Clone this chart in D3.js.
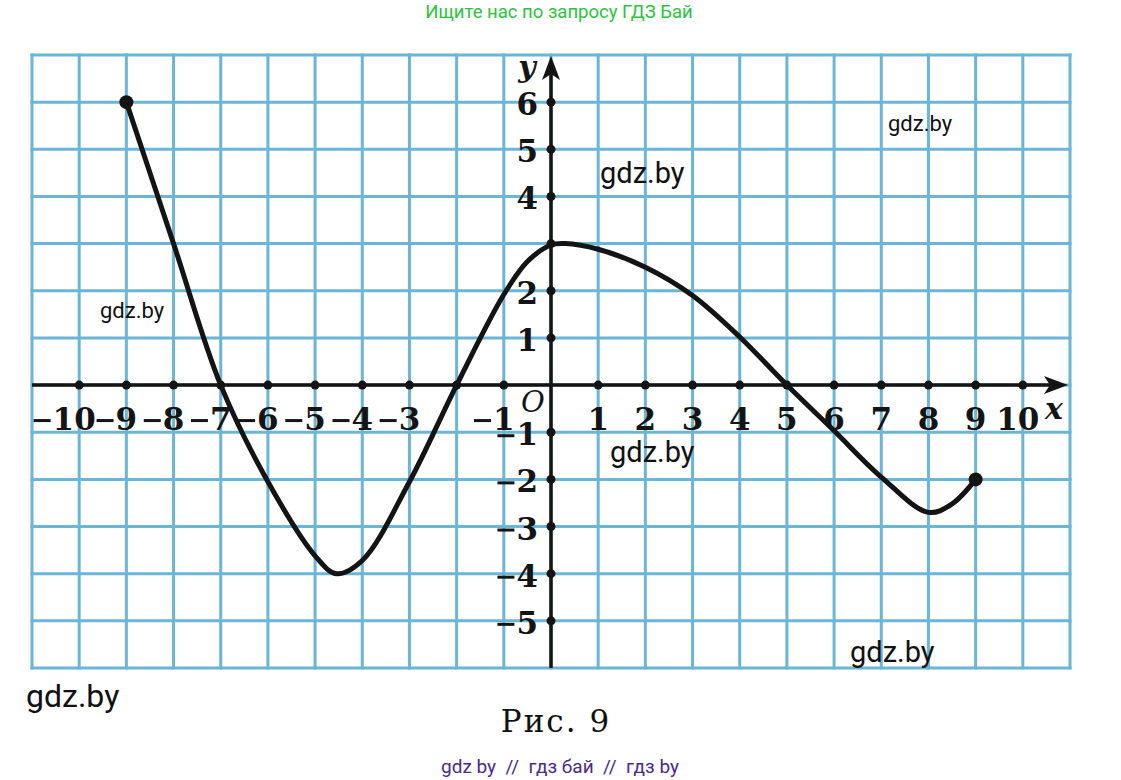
<!DOCTYPE html>
<html>
<head>
<meta charset="utf-8">
<script src="https://cdn.jsdelivr.net/npm/d3@7"></script>
<style>
  html, body { margin: 0; padding: 0; background: #fff; }
  svg { display: block; }
</style>
</head>
<body>
<svg id="chart" width="1121" height="780"></svg>
<script>
// graph of the function
const curveX = [-9, -8, -7, -6, -5, -4.55, -4, -3, -2, -1, -0.5, 0, 0.3, 1, 2, 3, 4, 5, 6, 7, 8, 8.5, 9];
const curveY = [6, 3, 0, -2.05, -3.62, -4, -3.72, -2.05, 0, 1.92, 2.62, 2.97, 3, 2.88, 2.5, 1.9, 1.02, 0, -0.97, -1.95, -2.7, -2.52, -2];

const xTickValues = [-10, -9, -8, -7, -6, -5, -4, -3, -2, -1, 1, 2, 3, 4, 5, 6, 7, 8, 9, 10];
const xTickLabels = ["−10", "−9", "−8", "−7", "−6", "−5", "−4", "−3", "", "−1", "1", "2", "3", "4", "5", "6", "7", "8", "9", "10"];
const yTickValues = [6, 5, 4, 3, 2, 1, -1, -2, -3, -4, -5];
const yTickLabels = ["6", "5", "4", "", "2", "1", "−1", "−2", "−3", "−4", "−5"];

const gridX = d3.range(-11, 12);
const gridY = d3.range(-6, 8);

const watermarks = [
    {text: "gdz.by", x: 600, y: 183, size: 29},
    {text: "gdz.by", x: 888, y: 131, size: 22},
    {text: "gdz.by", x: 100, y: 318, size: 22},
    {text: "gdz.by", x: 610, y: 462, size: 29},
    {text: "gdz.by", x: 850, y: 662, size: 29},
    {text: "gdz.by", x: 26, y: 707, size: 32}
];

const svg = d3.select("#chart");
const serif = "'DejaVu Serif', 'Liberation Serif', serif";
const sans = "Roboto, 'Noto Sans', sans-serif";

const x = d3.scaleLinear().domain([-11, 11]).range([32, 1070]);
const y = d3.scaleLinear().domain([-6, 7]).range([668, 55]);

svg.append("rect").attr("width", 1121).attr("height", 780).attr("fill", "#fff");

// grid
const gridColor = "#6bb6d6";
svg.append("g")
    .selectAll("line")
    .data(gridX)
    .join("line")
    .attr("x1", (d) => x(d)).attr("x2", (d) => x(d))
    .attr("y1", y(7) - 1.5).attr("y2", y(-6) + 1.5)
    .attr("stroke", gridColor)
    .attr("stroke-width", 3);

svg.append("g")
    .selectAll("line")
    .data(gridY)
    .join("line")
    .attr("y1", (d) => y(d)).attr("y2", (d) => y(d))
    .attr("x1", x(-11) - 1.5).attr("x2", x(11) + 1.5)
    .attr("stroke", gridColor)
    .attr("stroke-width", 3);

// axes
const ink = "#141414";
svg.append("line")
    .attr("x1", x(-11)).attr("x2", x(11) - 8)
    .attr("y1", y(0)).attr("y2", y(0))
    .attr("stroke", ink).attr("stroke-width", 3.5);
svg.append("line")
    .attr("x1", x(0)).attr("x2", x(0))
    .attr("y1", y(-6)).attr("y2", y(7) + 8)
    .attr("stroke", ink).attr("stroke-width", 3.5);

// arrows
svg.append("path")
    .attr("d", `M${x(11) - 2},${y(0)} L${x(11) - 26},${y(0) - 9} L${x(11) - 20},${y(0)} L${x(11) - 26},${y(0) + 9} Z`)
    .attr("fill", ink);
svg.append("path")
    .attr("d", `M${x(0)},${y(7) + 1} L${x(0) - 9},${y(7) + 25} L${x(0)},${y(7) + 19} L${x(0) + 9},${y(7) + 25} Z`)
    .attr("fill", ink);

// tick dots
svg.append("g")
    .selectAll("circle")
    .data(xTickValues)
    .join("circle")
    .attr("cx", (d) => x(d)).attr("cy", y(0))
    .attr("r", 4.5).attr("fill", ink);
svg.append("g")
    .selectAll("circle")
    .data(yTickValues)
    .join("circle")
    .attr("cx", x(0)).attr("cy", (d) => y(d))
    .attr("r", 4.5).attr("fill", ink);

// labels: digits and minus drawn apart so the digits sit on the tick
const labelFont = 31;
const drawLabel = (g, label, cx, baseline, anchor) => {
    const neg = label.startsWith("−");
    const digits = neg ? label.slice(1) : label;
    const t = g.append("text")
        .attr("x", cx).attr("y", baseline)
        .attr("text-anchor", anchor)
        .attr("font-family", serif).attr("font-weight", "bold")
        .attr("font-size", labelFont).attr("fill", ink)
        .text(digits);
    if (neg) {
        const w = t.node().getComputedTextLength();
        const left = anchor === "middle" ? cx - w / 2 : cx - w;
        g.append("rect")
            .attr("x", left - 19).attr("y", baseline - 11)
            .attr("width", 17).attr("height", 3)
            .attr("fill", ink);
    }
};

const xLabels = svg.append("g");
xTickValues.forEach((v, i) => {
    if (xTickLabels[i]) drawLabel(xLabels, xTickLabels[i], x(v) - (Math.abs(v) >= 10 ? 5 : 0), y(0) + 45, "middle");
});
const yLabels = svg.append("g");
yTickValues.forEach((v, i) => {
    if (yTickLabels[i]) drawLabel(yLabels, yTickLabels[i], x(0) - 13, y(v) + 13, "end");
});

svg.append("text")
    .attr("x", x(0) - 18).attr("y", y(0) + 27)
    .attr("text-anchor", "middle")
    .attr("font-family", serif).attr("font-style", "italic")
    .attr("font-size", 29).attr("fill", ink)
    .text("O");
svg.append("text")
    .attr("x", x(11) - 16).attr("y", y(0) + 34)
    .attr("text-anchor", "middle")
    .attr("font-family", serif).attr("font-style", "italic").attr("font-weight", "bold")
    .attr("font-size", 30).attr("fill", ink)
    .text("x");
svg.append("text")
    .attr("x", x(0) - 24).attr("y", y(7) + 22)
    .attr("text-anchor", "middle")
    .attr("font-family", serif).attr("font-style", "italic").attr("font-weight", "bold")
    .attr("font-size", 30).attr("fill", ink)
    .text("y");

// the function graph
const points = curveX.map((d, i) => [d, curveY[i]]);
const line = d3.line()
    .x((d) => x(d[0]))
    .y((d) => y(d[1]))
    .curve(d3.curveCatmullRom.alpha(0.5));

svg.append("path")
    .datum(points)
    .attr("d", line)
    .attr("fill", "none")
    .attr("stroke", ink)
    .attr("stroke-width", 5)
    .attr("stroke-linejoin", "round")
    .attr("stroke-linecap", "round");

svg.append("g")
    .selectAll("circle")
    .data([points[0], points[points.length - 1]])
    .join("circle")
    .attr("cx", (d) => x(d[0])).attr("cy", (d) => y(d[1]))
    .attr("r", 7).attr("fill", ink);

// watermarks and captions
svg.append("g")
    .selectAll("text")
    .data(watermarks)
    .join("text")
    .attr("x", (d) => d.x).attr("y", (d) => d.y)
    .attr("font-family", sans)
    .attr("font-size", (d) => d.size)
    .attr("fill", "#111")
    .text((d) => d.text);

svg.append("text")
    .attr("x", 559).attr("y", 18)
    .attr("text-anchor", "middle")
    .attr("font-family", sans).attr("font-size", 18.5)
    .attr("fill", "#2bc43c")
    .text("Ищите нас по запросу ГДЗ Бай");

svg.append("text")
    .attr("x", 556).attr("y", 732)
    .attr("text-anchor", "middle")
    .attr("font-family", serif).attr("font-size", 31)
    .attr("letter-spacing", 2)
    .attr("fill", "#111")
    .text("Рис. 9");

svg.append("text")
    .attr("x", 560).attr("y", 773)
    .attr("text-anchor", "middle")
    .attr("font-family", sans).attr("font-size", 19)
    .attr("fill", "#4a2a8a")
    .attr("xml:space", "preserve")
    .style("white-space", "pre")
    .text("gdz by  //  гдз бай  //  гдз by");
</script>
</body>
</html>
